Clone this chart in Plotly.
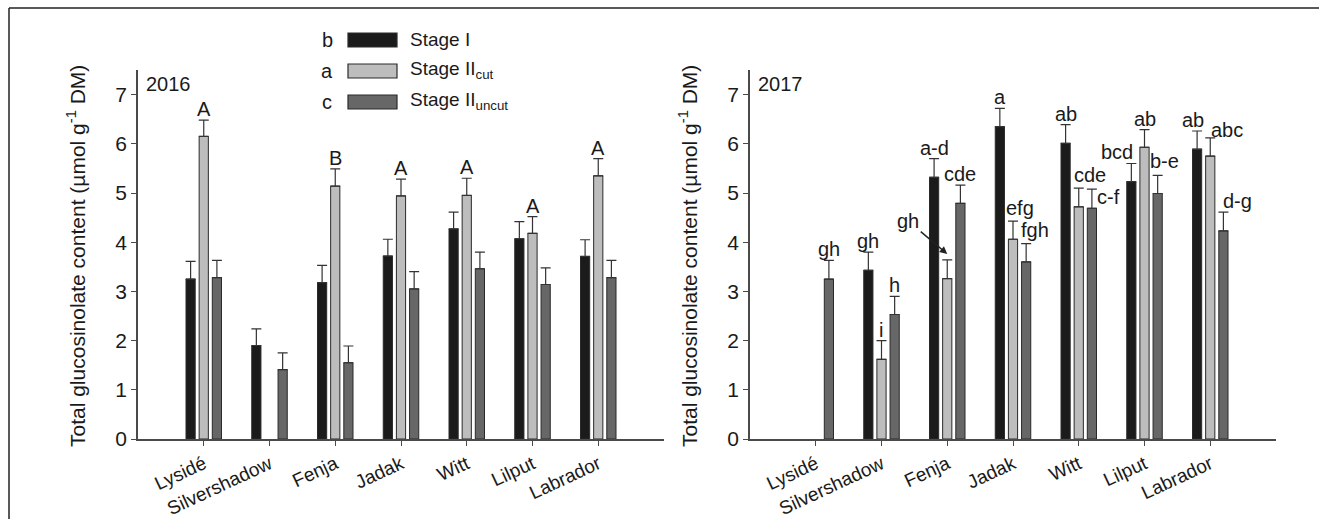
import plotly.graph_objects as go

# ---------------- data ----------------
varieties = ["Lysidé", "Silvershadow", "Fenja", "Jadak", "Witt", "Lilput", "Labrador"]
series_names = ["Stage I", "Stage II<sub>cut</sub>", "Stage II<sub>uncut</sub>"]
legend_letters = ["b", "a", "c"]

# 2016
stage1_2016 = [3.25, 1.90, 3.18, 3.72, 4.27, 4.07, 3.71]
stage1_err_2016 = [0.36, 0.34, 0.35, 0.34, 0.34, 0.35, 0.34]
cut_2016 = [6.15, None, 5.14, 4.94, 4.95, 4.18, 5.35]
cut_err_2016 = [0.33, None, 0.35, 0.34, 0.35, 0.34, 0.35]
uncut_2016 = [3.28, 1.41, 1.55, 3.05, 3.46, 3.14, 3.28]
uncut_err_2016 = [0.35, 0.34, 0.34, 0.35, 0.34, 0.34, 0.35]
cut_letters_2016 = ["A", "", "B", "A", "A", "A", "A"]

# 2017
stage1_2017 = [None, 3.43, 5.32, 6.35, 6.01, 5.23, 5.89]
stage1_err_2017 = [None, 0.37, 0.38, 0.37, 0.38, 0.37, 0.37]
cut_2017 = [None, 1.62, 3.26, 4.06, 4.72, 5.93, 5.75]
cut_err_2017 = [None, 0.38, 0.38, 0.37, 0.38, 0.36, 0.37]
uncut_2017 = [3.25, 2.53, 4.79, 3.60, 4.69, 4.99, 4.23]
uncut_err_2017 = [0.38, 0.37, 0.37, 0.37, 0.39, 0.37, 0.38]
stage1_letters_2017 = ["", "gh", "a-d", "a", "ab", "bcd", "ab"]
cut_letters_2017 = ["", "i", "gh", "efg", "cde", "ab", "abc"]
uncut_letters_2017 = ["gh", "h", "cde", "fgh", "c-f", "b-e", "d-g"]

# ---------------- style ----------------
W, H = 1319, 519
FONT = "Liberation Sans, Arial, sans-serif"
TXT = "#1a1a1a"
colors = ["#1b1b1b", "#bdbdbd", "#676767"]
outline = "#2a2a2a"
axcol = "#4a4a4a"
offsets = [-0.2, 0.0, 0.2]
FS = 20

# label tweaks (series index, variety index)
tweaks_2017 = {
    (0, 5): dict(xshift=-14, yshift=0),
    (2, 5): dict(xshift=7, yshift=3),
    (1, 3): dict(xshift=7, yshift=2),
    (2, 3): dict(xshift=9, yshift=3),
    (1, 4): dict(xshift=11, yshift=2),
    (0, 6): dict(xshift=-4, yshift=0),
    (1, 6): dict(xshift=17, yshift=-3),
    (2, 6): dict(xshift=14, yshift=0),
}


def px_x(p):
    return p / W


def px_y(p):
    return 1 - p / H


fig = go.Figure()

panels = [
    ("x", "y", [stage1_2016, cut_2016, uncut_2016],
     [stage1_err_2016, cut_err_2016, uncut_err_2016]),
    ("x2", "y2", [stage1_2017, cut_2017, uncut_2017],
     [stage1_err_2017, cut_err_2017, uncut_err_2017]),
]

xs = list(range(len(varieties)))
for xa, ya, vals, errs in panels:
    for k in range(3):
        e = [v if v is not None else 0 for v in errs[k]]
        fig.add_trace(go.Bar(
            x=xs, y=vals[k], name=series_names[k], showlegend=False,
            xaxis=xa, yaxis=ya,
            marker=dict(color=colors[k], line=dict(color=outline, width=1)),
            error_y=dict(type="data", symmetric=False, array=e,
                         arrayminus=[0] * len(e), color="#333333",
                         thickness=1.2, width=5),
        ))

annotations = []
font_lbl = dict(family=FONT, size=FS, color=TXT)

# 2016 letters (above Stage II cut bars)
for i, lab in enumerate(cut_letters_2016):
    if lab and cut_2016[i] is not None:
        annotations.append(dict(
            x=i + offsets[1], y=cut_2016[i] + cut_err_2016[i], xref="x", yref="y",
            text=lab, showarrow=False, xanchor="center", yanchor="bottom",
            yshift=-2, font=font_lbl))

# 2017 letters
vals17 = [stage1_2017, cut_2017, uncut_2017]
errs17 = [stage1_err_2017, cut_err_2017, uncut_err_2017]
lets17 = [stage1_letters_2017, cut_letters_2017, uncut_letters_2017]
for k in range(3):
    for i in range(len(varieties)):
        lab = lets17[k][i]
        v = vals17[k][i]
        if not lab or v is None:
            continue
        top = v + errs17[k][i]
        if (k, i) == (1, 2):
            # Fenja cut: label with arrow
            annotations.append(dict(
                x=i + offsets[k], y=top + 0.12, xref="x2", yref="y2",
                text=lab, showarrow=True, arrowhead=2, arrowsize=1,
                arrowwidth=1.5, arrowcolor="#222222", ax=-39, ay=-33,
                font=font_lbl))
            continue
        if (k, i) == (2, 4):
            # Witt uncut: label to the right of cap
            annotations.append(dict(
                x=i + offsets[k], y=top, xref="x2", yref="y2", text=lab,
                showarrow=False, xanchor="left", yanchor="middle",
                xshift=3, yshift=-8, font=font_lbl))
            continue
        tw = tweaks_2017.get((k, i), {})
        annotations.append(dict(
            x=i + offsets[k], y=top, xref="x2", yref="y2", text=lab,
            showarrow=False, xanchor="center", yanchor="bottom",
            xshift=tw.get("xshift", 0), yshift=tw.get("yshift", 0) - 2,
            font=font_lbl))

# Year labels
for txt, x0 in (("2016", 144), ("2017", 756)):
    annotations.append(dict(x=px_x(x0), y=px_y(84), xref="paper", yref="paper",
                            text=txt, showarrow=False, xanchor="left",
                            yanchor="middle", font=dict(family=FONT, size=20, color=TXT)))

# Y titles
ytitle = "Total glucosinolate content (µmol g<sup>-1</sup> DM)"
for cx in (76, 688):
    annotations.append(dict(x=px_x(cx), y=px_y(256), xref="paper", yref="paper",
                            text=ytitle, showarrow=False, textangle=-90,
                            xanchor="center", yanchor="middle",
                            font=dict(family=FONT, size=21, color=TXT)))

# Legend (manual)
shapes = []
leg_rows = [40, 71, 102]
for k, cy in enumerate(leg_rows):
    shapes.append(dict(type="rect", xref="paper", yref="paper",
                       x0=px_x(348), x1=px_x(397), y0=px_y(cy + 7), y1=px_y(cy - 7),
                       fillcolor=colors[k], line=dict(color=outline, width=1.2)))
    annotations.append(dict(x=px_x(327), y=px_y(cy), xref="paper", yref="paper",
                            text=legend_letters[k], showarrow=False,
                            xanchor="center", yanchor="middle", font=font_lbl))
    annotations.append(dict(x=px_x(408), y=px_y(cy - 1), xref="paper", yref="paper",
                            text=series_names[k], showarrow=False,
                            xanchor="left", yanchor="middle",
                            font=dict(family=FONT, size=19, color=TXT)))

# Outer frame (left and top edges)
shapes.append(dict(type="line", xref="paper", yref="paper", x0=px_x(9), x1=px_x(9),
                   y0=px_y(8), y1=0, line=dict(color="#222222", width=1.5)))
shapes.append(dict(type="line", xref="paper", yref="paper", x0=px_x(9), x1=1,
                   y0=px_y(8), y1=px_y(8), line=dict(color="#222222", width=1.5)))

xaxis_common = dict(range=[-1, 7], tickmode="array", tickvals=xs, ticktext=varieties,
                    tickangle=-25, ticks="outside", ticklen=5, tickcolor=axcol,
                    tickwidth=1.2, showline=True, linecolor=axcol, linewidth=1.5,
                    showgrid=False, zeroline=False, automargin=False,
                    tickfont=dict(family=FONT, size=19, color=TXT))
yaxis_common = dict(range=[0, 7.5], tickmode="array", tickvals=list(range(8)),
                    ticks="outside", ticklen=5, tickcolor=axcol, tickwidth=1.2,
                    showline=True, linecolor=axcol, linewidth=1.5, showgrid=False,
                    zeroline=False, automargin=False,
                    tickfont=dict(family=FONT, size=21, color=TXT))

ydom = [px_y(439), px_y(70)]
fig.update_layout(
    width=W, height=H,
    margin=dict(l=0, r=0, t=0, b=0),
    paper_bgcolor="white", plot_bgcolor="white",
    barmode="group", bargap=0.4, bargroupgap=0.3,
    showlegend=False,
    xaxis=dict(domain=[px_x(138), px_x(664)], anchor="y", **xaxis_common),
    yaxis=dict(domain=ydom, anchor="x", **yaxis_common),
    xaxis2=dict(domain=[px_x(750), px_x(1276)], anchor="y2", **xaxis_common),
    yaxis2=dict(domain=ydom, anchor="x2", **yaxis_common),
    annotations=annotations,
    shapes=shapes,
)

fig.write_html("out.html")
